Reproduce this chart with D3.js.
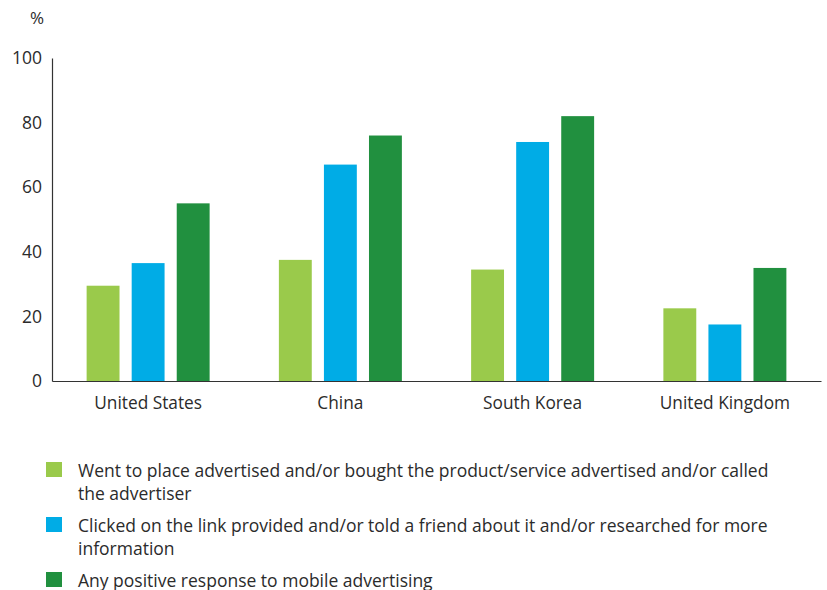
<!DOCTYPE html>
<html>
<head>
<meta charset="utf-8">
<script src="https://cdn.jsdelivr.net/npm/d3@7"></script>
<style>
  body { margin: 0; background: #fff; }
  svg text { font-family: "Open Sans", "Noto Sans", sans-serif; fill: #2b2b2b; }
</style>
</head>
<body>
<svg id="chart" width="827" height="590"></svg>
<script>
// Countries along the x axis
const countries = ["United States", "China", "South Korea", "United Kingdom"];

// Response types (one bar per country each)
const seriesNames = [
  "Went to place advertised and/or bought the product/service advertised and/or called the advertiser",
  "Clicked on the link provided and/or told a friend about it and/or researched for more information",
  "Any positive response to mobile advertising"
];

// Percentages per series, in country order
const wentOrBought = [29.5, 37.5, 34.5, 22.5];
const clickedOrShared = [36.5, 67, 74, 17.5];
const anyPositive = [55, 76, 82, 35];

const yTicks = [0, 20, 40, 60, 80, 100];

const colors = ["#9aca4b", "#00ace6", "#21903f"];

// Legend lines (wrapped text)
const legendLines = [
  ["Went to place advertised and/or bought the product/service advertised and/or called", "the advertiser"],
  ["Clicked on the link provided and/or told a friend about it and/or researched for more", "information"],
  ["Any positive response to mobile advertising"]
];

const seriesValues = [wentOrBought, clickedOrShared, anyPositive];

const svg = d3.select("#chart");
const plot = { left: 52, right: 821, top: 58, bottom: 381 };

const x = d3.scaleBand().domain(countries).range([plot.left, plot.right]).padding(0);
const xInner = d3.scaleBand().domain(d3.range(seriesNames.length))
  .range([-61.5, 61.5]).paddingInner(0.27).paddingOuter(0);
const y = d3.scaleLinear().domain([0, 100]).range([plot.bottom, plot.top]);

// Bars
const groups = svg.append("g").selectAll("g")
  .data(countries)
  .join("g")
  .attr("transform", d => `translate(${x(d) + x.bandwidth() / 2},0)`);

groups.selectAll("rect")
  .data((c, ci) => seriesValues.map((vals, si) => ({ si, v: vals[ci] })))
  .join("rect")
  .attr("x", d => xInner(d.si))
  .attr("width", xInner.bandwidth())
  .attr("y", d => y(d.v))
  .attr("height", d => y(0) - y(d.v))
  .attr("fill", d => colors[d.si]);

// Y axis
const yAxis = svg.append("g")
  .attr("transform", `translate(${plot.left},0)`)
  .call(d3.axisLeft(y).tickValues(yTicks).tickSize(0).tickPadding(10));
yAxis.select(".domain").attr("stroke", "#333").attr("stroke-width", 1.2);
yAxis.selectAll("text").attr("font-size", 17.5).attr("fill", "#2b2b2b")
  .style("font-family", "'Open Sans', sans-serif");

// X axis
const xAxis = svg.append("g")
  .attr("transform", `translate(0,${plot.bottom})`)
  .call(d3.axisBottom(x).tickSize(0).tickPadding(15.5));
xAxis.select(".domain").attr("stroke", "#333").attr("stroke-width", 1.2);
xAxis.selectAll("text").attr("font-size", 17.3).attr("fill", "#2b2b2b")
  .style("font-family", "'Open Sans', sans-serif");

// Unit label
svg.append("text").attr("x", 37).attr("y", 24).attr("text-anchor", "middle")
  .attr("font-size", 17).text("%");

// Legend
const legendTops = [462, 517, 572];
const legend = svg.append("g").selectAll("g")
  .data(legendLines)
  .join("g")
  .attr("transform", (d, i) => `translate(0,${legendTops[i]})`);

legend.append("rect")
  .attr("x", 46).attr("y", 0).attr("width", 16).attr("height", 15)
  .attr("fill", (d, i) => colors[i]);

legend.append("text")
  .attr("x", 78).attr("y", 14.5)
  .attr("font-size", 17.5)
  .selectAll("tspan")
  .data(d => d)
  .join("tspan")
  .attr("x", 78)
  .attr("dy", (d, i) => i === 0 ? 0 : 23.5)
  .text(d => d);
</script>
</body>
</html>
